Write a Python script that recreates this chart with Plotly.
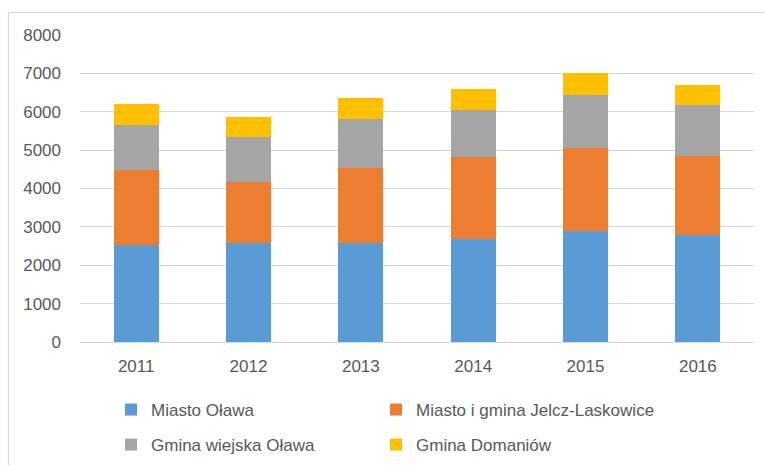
import plotly.graph_objects as go

years = ["2011", "2012", "2013", "2014", "2015", "2016"]
miasto_olawa = [2535, 2570, 2570, 2690, 2880, 2780]
jelcz_laskowice = [1950, 1595, 1975, 2125, 2170, 2055]
gmina_wiejska_olawa = [1170, 1180, 1265, 1220, 1385, 1335]
gmina_domaniow = [540, 520, 545, 555, 580, 530]

series_names = ["Miasto Oława", "Miasto i gmina Jelcz-Laskowice",
                "Gmina wiejska Oława", "Gmina Domaniów"]
series_values = [miasto_olawa, jelcz_laskowice, gmina_wiejska_olawa, gmina_domaniow]
colors = ["#5B9BD5", "#ED7D31", "#A5A5A5", "#FFC000"]
legend_ids = ["legend", "legend2", "legend3", "legend4"]

W, H = 765, 465
ML, MR, MT, MB = 80, 11, 35, 123
FONT = "Liberation Sans, Arial, sans-serif"
TXT = "#595959"
GRID = "#D9D9D9"

fig = go.Figure()
for name, vals, col, lg in zip(series_names, series_values, colors, legend_ids):
    fig.add_trace(go.Bar(x=years, y=vals, name=name, marker_color=col,
                         marker_line_width=0, legend=lg, showlegend=True))

# legend positions (container pixels): left edge, vertical centre
leg_pos = [(111, 410), (376, 410), (111, 445), (376, 445)]
legend_layouts = {}
for lg, (px, py) in zip(legend_ids, leg_pos):
    legend_layouts[lg] = dict(
        x=px / W, y=1 - py / H, xref="container", yref="container",
        xanchor="left", yanchor="middle", orientation="h",
        font=dict(family=FONT, size=17, color=TXT),
        bgcolor="rgba(0,0,0,0)", itemwidth=30, visible=True,
    )

plot_w = W - ML - MR
plot_h = H - MT - MB
frame_x0 = (8.5 - ML) / plot_w
frame_y1 = (H - MB - 12.5) / plot_h

fig.update_layout(
    width=W, height=H,
    margin=dict(l=ML, r=MR, t=MT, b=MB),
    barmode="stack", bargap=0.6,
    showlegend=True,
    paper_bgcolor="white", plot_bgcolor="white",
    font=dict(family=FONT, size=17, color=TXT),
    **legend_layouts,
    shapes=[dict(type="rect", xref="paper", yref="paper",
                 x0=frame_x0, x1=1.2, y0=-1.0, y1=frame_y1,
                 line=dict(color=GRID, width=1.2), fillcolor="rgba(0,0,0,0)",
                 layer="below")],
)
fig.update_xaxes(showgrid=False, showline=False, ticks="", ticklabelstandoff=12,
                 tickfont=dict(family=FONT, size=17, color=TXT))
fig.update_yaxes(range=[0, 8000], dtick=1000, showgrid=True, gridcolor=GRID,
                 gridwidth=1.3, zeroline=True, zerolinecolor=GRID, zerolinewidth=1.3,
                 showline=False, ticks="", ticklabelstandoff=18,
                 tickfont=dict(family=FONT, size=17, color=TXT))

fig.write_html("out.html", config={"displayModeBar": False},
               post_script="document.body.style.margin='0';document.body.style.overflow='hidden';")
